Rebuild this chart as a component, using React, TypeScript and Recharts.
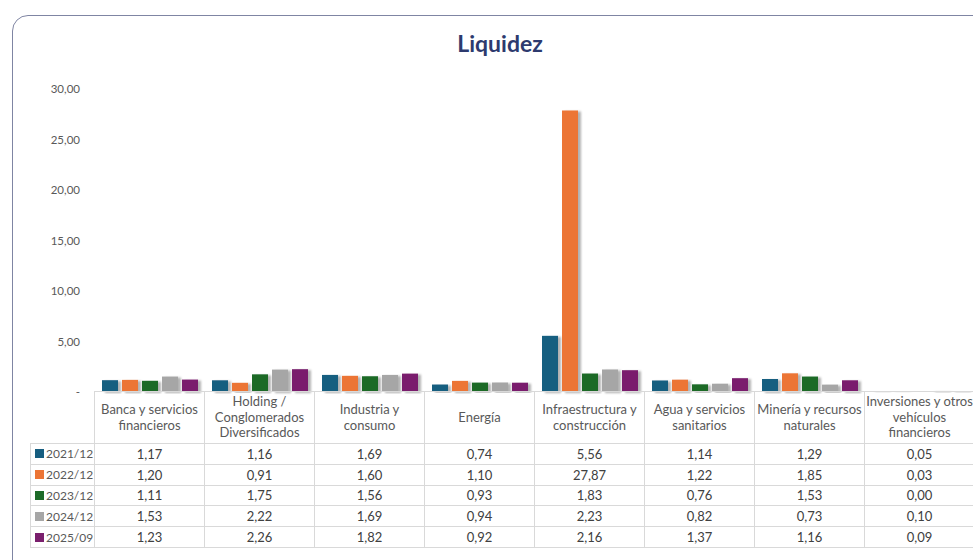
import { BarChart, Bar, YAxis, XAxis } from "recharts";

const categories = [
  "Banca y servicios financieros",
  "Holding / Conglomerados Diversificados",
  "Industria y consumo",
  "Energía",
  "Infraestructura y construcción",
  "Agua y servicios sanitarios",
  "Minería y recursos naturales",
  "Inversiones y otros vehículos financieros",
];
const labelLines = [
  ["Banca y servicios", "financieros"],
  ["Holding /", "Conglomerados", "Diversificados"],
  ["Industria y", "consumo"],
  ["Energía"],
  ["Infraestructura y", "construcción"],
  ["Agua y servicios", "sanitarios"],
  ["Minería y recursos", "naturales"],
  ["Inversiones y otros", "vehículos", "financieros"],
];

const periods = ["2021/12", "2022/12", "2023/12", "2024/12", "2025/09"];
const colors = ["#175e80", "#ec7535", "#1d6b28", "#a6a6a6", "#7a1f6d"];

const s2021 = [1.17, 1.16, 1.69, 0.74, 5.56, 1.14, 1.29, 0.05];
const s2022 = [1.2, 0.91, 1.6, 1.1, 27.87, 1.22, 1.85, 0.03];
const s2023 = [1.11, 1.75, 1.56, 0.93, 1.83, 0.76, 1.53, 0.0];
const s2024 = [1.53, 2.22, 1.69, 0.94, 2.23, 0.82, 0.73, 0.1];
const s2025 = [1.23, 2.26, 1.82, 0.92, 2.16, 1.37, 1.16, 0.09];

const yTicks = [0, 5, 10, 15, 20, 25, 30];

const seriesList = [s2021, s2022, s2023, s2024, s2025];

const data = categories.map((c, i) => {
  const row: Record<string, string | number> = { name: c };
  periods.forEach((p, k) => {
    row[p] = seriesList[k][i];
  });
  return row;
});

const fmt = (v: number) => v.toFixed(2).replace(".", ",");

const FONT = "Lato, 'Open Sans', sans-serif";
const BORDER = "1px solid #d9d9d9";

export default function App() {
  return (
    <div
      style={{
        position: "fixed",
        left: 0,
        top: 0,
        width: 973,
        height: 560,
        overflow: "hidden",
        background: "#fff",
        fontFamily: FONT,
      }}
    >
      <div
        style={{
          position: "absolute",
          left: 12,
          top: 15,
          width: 1000,
          height: 600,
          border: "1.5px solid #7f85a3",
          borderTopLeftRadius: 16,
        }}
      />
      <div
        style={{
          position: "absolute",
          left: 0,
          top: 29,
          width: 1000,
          textAlign: "center",
          fontSize: 23,
          fontWeight: 700,
          color: "#2d3a6e",
        }}
      >
        Liquidez
      </div>
      <div style={{ position: "absolute", left: 0, top: 0 }}>
        <BarChart
          width={975}
          height={402}
          data={data}
          margin={{ top: 89, right: 1, bottom: 10, left: 0 }}
          barCategoryGap={8}
          barGap={4}
        >
          <defs>
            <filter id="shadow" x="-20%" y="-5%" width="160%" height="115%">
              <feDropShadow dx="3" dy="1" stdDeviation="1.3" floodColor="#000" floodOpacity="0.3" />
            </filter>
          </defs>
          <XAxis dataKey="name" hide />
          <YAxis
            width={94}
            domain={[0, 30]}
            ticks={yTicks}
            axisLine={false}
            tickLine={false}
            tickMargin={8}
            interval={0}
            tick={{ fontSize: 11.5, fill: "#595959", fontFamily: FONT }}
            tickFormatter={(v: number) => (v === 0 ? "-" : fmt(v))}
          />
          {periods.map((p, k) => (
            <Bar
              key={p}
              dataKey={p}
              fill={colors[k]}
              filter="url(#shadow)"
              isAnimationActive={false}
            />
          ))}
        </BarChart>
      </div>
      <table
        style={{
          position: "absolute",
          left: 30,
          top: 391,
          borderCollapse: "collapse",
          tableLayout: "fixed",
          width: 944,
          fontFamily: FONT,
          fontSize: 13,
          color: "#404040",
        }}
      >
        <colgroup>
          <col style={{ width: 64 }} />
          {categories.map((c) => (
            <col key={c} style={{ width: 110 }} />
          ))}
        </colgroup>
        <tbody>
          <tr style={{ height: 52 }}>
            <td style={{ padding: 0 }} />
            {labelLines.map((lines, i) => (
              <td
                key={i}
                style={{
                  border: BORDER,
                  textAlign: "center",
                  padding: 0,
                  color: "#595959",
                  lineHeight: "15.5px",
                  whiteSpace: "nowrap",
                  overflow: "hidden",
                }}
              >
                {lines.map((l, j) => (
                  <div key={j}>{l}</div>
                ))}
              </td>
            ))}
          </tr>
          {periods.map((p, k) => (
            <tr key={p} style={{ height: 20.8 }}>
              <td
                style={{
                  border: BORDER,
                  padding: "0 0 0 4px",
                  whiteSpace: "nowrap",
                  overflow: "hidden",
                  color: "#595959",
                  fontSize: 12,
                }}
              >
                <span
                  style={{
                    display: "inline-block",
                    width: 9,
                    height: 9,
                    background: colors[k],
                    marginRight: 2,
                  }}
                />
                {p}
              </td>
              {seriesList[k].map((v, i) => (
                <td
                  key={i}
                  style={{ border: BORDER, textAlign: "center", padding: 0 }}
                >
                  {fmt(v)}
                </td>
              ))}
            </tr>
          ))}
        </tbody>
      </table>
    </div>
  );
}
